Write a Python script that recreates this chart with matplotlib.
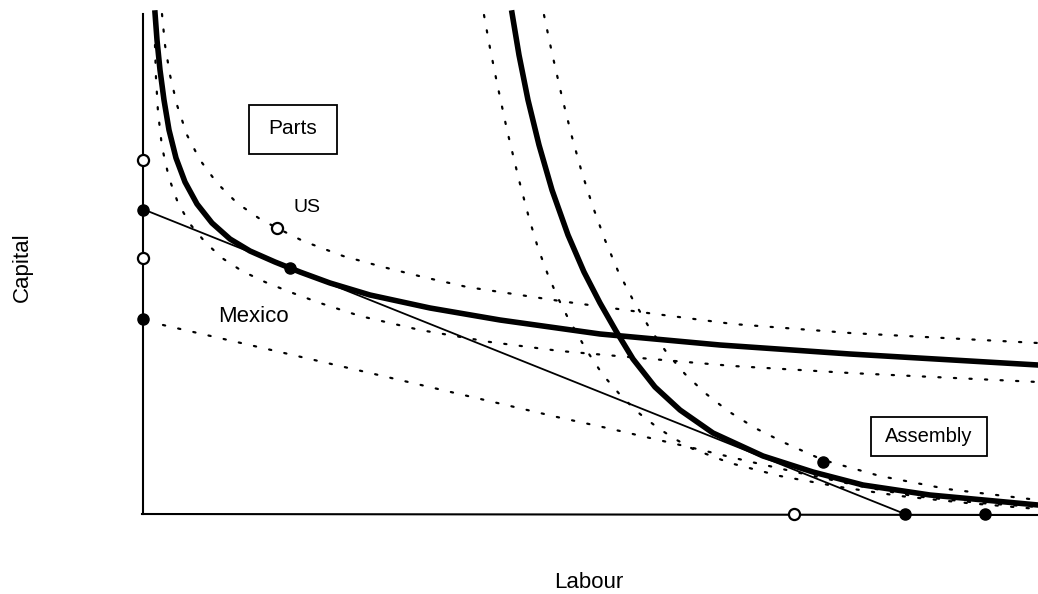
import matplotlib.pyplot as plt
from matplotlib.patches import Rectangle

plt.rcParams['font.family'] = ['Liberation Sans', 'DejaVu Sans']

# isoquants (labour, capital)
parts_L = [13, 15, 18, 22, 27, 34, 43, 55, 70, 88, 108, 133, 158, 188, 228, 288, 358, 458, 578, 708, 896]
parts_K = [501, 474, 444, 414, 384, 356, 332, 310, 291, 275, 263, 252, 242, 231, 219, 206, 194, 180, 169, 160, 149]

us_L = [20, 23, 28, 35, 45, 58, 75, 95, 118, 135, 161, 201, 241, 281, 325, 418, 498, 591, 708, 896]
us_K = [500, 469, 439, 409, 379, 354, 331, 311, 295, 286, 273, 258, 247, 237, 227, 213, 202, 190, 181, 171]

parts_low_L = [13, 14, 16, 20, 27, 36, 48, 63, 80, 100, 123, 148, 178, 218, 278, 348, 418, 498, 591, 708, 896]
parts_low_K = [469, 436, 402, 367, 336, 311, 290, 272, 256, 243, 232, 222, 211, 198, 184, 172, 163, 156, 148, 141, 132]

mexico_L = [21, 125, 228, 330, 415, 465, 508, 551, 605, 658, 718, 771, 838, 896]
mexico_K = [189, 165, 141, 117, 97, 86, 76, 66, 53, 41, 28, 18, 11, 7]

assembly_L = [370, 377, 386, 397, 410, 426, 442, 458, 474, 491, 513, 538, 571, 621, 671, 721, 788, 896]
assembly_K = [501, 459, 414, 369, 324, 279, 242, 211, 183, 155, 127, 104, 81, 58, 42, 29, 19, 9]

asm_left_L = [342, 348, 355, 365, 377, 387, 396, 406, 416, 426, 445, 461, 480, 498, 516, 533, 551, 588, 638, 698, 758, 825, 896]
asm_left_K = [499, 466, 431, 384, 334, 296, 266, 239, 216, 196, 163, 139, 117, 100, 86, 75, 65, 51, 38, 27, 18, 11, 5]

asm_right_L = [402, 410, 420, 430, 440, 451, 463, 476, 490, 508, 525, 543, 563, 586, 613, 643, 681, 738, 805, 871, 896]
asm_right_K = [499, 461, 417, 377, 341, 307, 274, 243, 216, 185, 161, 140, 121, 103, 86, 71, 54, 38, 25, 17, 14]

# isocost line
iso_L = [3, 763]
iso_K = [304, 0]

# marked points
axis_open_K = [354, 256]
axis_fill_K = [304, 195]
base_open_L = [652]
base_fill_L = [763, 843]
open_L, open_K = [135], [286]
fill_L, fill_K = [148, 681], [246, 52]

fig = plt.figure(figsize=(10.38, 5.94), dpi=100)
ax = fig.add_axes([0, 0, 1, 1])
ax.set_xlim(-142, 896)
ax.set_ylim(-80, 514)
ax.axis('off')

dot = (0, (1, 6))
thin_kw = dict(color='black', lw=1.6, ls=dot, dash_capstyle='round')

# axes
ax.plot([1, 1], [0, 500], color='black', lw=1.5)
ax.plot([0, 896], [0, -1], color='black', lw=1.5)

ax.plot(us_L, us_K, **thin_kw)
ax.plot(parts_low_L, parts_low_K, **thin_kw)
ax.plot(mexico_L, mexico_K, **thin_kw)
ax.plot(asm_left_L, asm_left_K, **thin_kw)
ax.plot(asm_right_L, asm_right_K, **thin_kw)

ax.plot(iso_L, iso_K, color='black', lw=1.3)

ax.plot(parts_L, parts_K, color='black', lw=4, solid_joinstyle='round')
ax.plot(assembly_L, assembly_K, color='black', lw=4, solid_joinstyle='round')

ms = 8
ax.plot([1] * len(axis_open_K), axis_open_K, 'o', ms=ms, mfc='white', mec='black', mew=1.6)
ax.plot([1] * len(axis_fill_K), axis_fill_K, 'o', ms=ms, color='black')
ax.plot(base_open_L, [0] * len(base_open_L), 'o', ms=ms, mfc='white', mec='black', mew=1.6)
ax.plot(base_fill_L, [0] * len(base_fill_L), 'o', ms=ms, color='black')
ax.plot(open_L, open_K, 'o', ms=ms, mfc='white', mec='black', mew=1.6)
ax.plot(fill_L, fill_K, 'o', ms=ms, color='black')

# labels
ax.add_patch(Rectangle((107, 360), 88, 49, fill=False, ec='black', lw=1.3))
ax.text(151, 386, 'Parts', fontsize=15, ha='center', va='center')
ax.add_patch(Rectangle((729, 58), 116, 39, fill=False, ec='black', lw=1.3))
ax.text(787, 78, 'Assembly', fontsize=14.5, ha='center', va='center')
ax.text(165, 307, 'US', fontsize=14, ha='center', va='center')
ax.text(111, 197, 'Mexico', fontsize=16, ha='center', va='center')
ax.text(447, -69, 'Labour', fontsize=16, ha='center', va='center')
ax.text(-120, 247, 'Capital', fontsize=16, ha='center', va='center', rotation=90)

fig.savefig('out.png', dpi=100, facecolor='white')
